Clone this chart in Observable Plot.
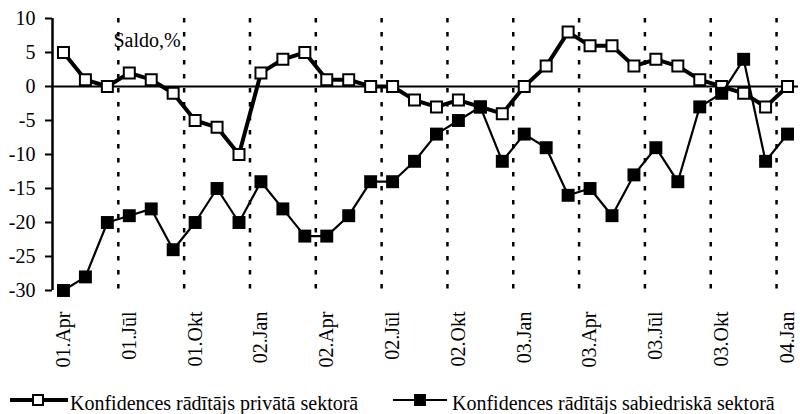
<!DOCTYPE html>
<html><head><meta charset="utf-8">
<script src="https://cdn.jsdelivr.net/npm/d3@7"></script>
<script src="https://cdn.jsdelivr.net/npm/@observablehq/plot@0.6"></script>
</head>
<body style="margin:0;background:#fff">
<div style="font-family:'Liberation Serif';font-size:20px;position:absolute;left:-200px;top:0;width:10px;height:1px;overflow:hidden">&nbsp;</div>
<div id="chart"></div>
<div id="legend"></div>
<script>
const months = ["01.Apr","01.Mai","01.Jūn","01.Jūl","01.Aug","01.Sep","01.Okt","01.Nov","01.Dec",
  "02.Jan","02.Feb","02.Mar","02.Apr","02.Mai","02.Jūn","02.Jūl","02.Aug","02.Sep","02.Okt","02.Nov","02.Dec",
  "03.Jan","03.Feb","03.Mar","03.Apr","03.Mai","03.Jūn","03.Jūl","03.Aug","03.Sep","03.Okt","03.Nov","03.Dec",
  "04.Jan"];
const privateSector = [5,1,0,2,1,-1,-5,-6,-10,2,4,5,1,1,0,0,-2,-3,-2,-3,-4,0,3,8,6,6,3,4,3,1,0,-1,-3,0];
const publicSector = [-30,-28,-20,-19,-18,-24,-20,-15,-20,-14,-18,-22,-22,-19,-14,-14,-11,-7,-5,-3,-11,-7,-9,-16,-15,-19,-13,-9,-14,-3,-1,4,-11,-7];
const yTicks = [10,5,0,-5,-10,-15,-20,-25,-30];
const seriesNames = ["Konfidences rādītājs privātā sektorā","Konfidences rādītājs sabiedriskā sektorā"];
const axisLabel = "Saldo,%";
const FONT = "Liberation Serif";

function draw() {
  const priv = privateSector.map((v,i)=>({i,v}));
  const pub = publicSector.map((v,i)=>({i,v}));
  const labelIdx = d3.range(0, months.length, 3);
  const gridIdx = d3.range(2.5, months.length - 1, 3);

  const chart = Plot.plot({
    width: 800, height: 385,
    marginLeft: 52, marginRight: 2, marginTop: 18, marginBottom: 95,
    style: {fontFamily: FONT, fontSize: "20px", color: "#000", background: "#fff", overflow: "visible"},
    x: {type: "linear", domain: [-0.5, months.length - 0.5]},
    y: {domain: [-30, 10]},
    marks: [
      Plot.ruleX(gridIdx, {x: d => d, y1: 10, y2: -30, stroke: "#000", strokeWidth: 2.5, strokeDasharray: "4.5,9.5"}),
      Plot.ruleY([0], {x1: -0.5, x2: months.length - 0.5, stroke: "#000", strokeWidth: 2}),
      Plot.axisY({ticks: yTicks, tickFormat: d => String(d), tickSize: 7, tickPadding: 10, strokeWidth: 2, label: null, fontSize: 20, fontFamily: FONT}),
      Plot.ruleX([-0.5], {y1: -30, y2: 10, stroke: "#000", strokeWidth: 2.5}),
      Plot.axisX({ticks: labelIdx, tickFormat: i => months[i], tickRotate: -90, tickSize: 0, tickPadding: 21, label: null, fontSize: 20, fontFamily: FONT}),
      Plot.lineY(priv, {x: "i", y: "v", stroke: "#000", strokeWidth: 4}),
      Plot.dot(priv, {x: "i", y: "v", symbol: "square", r: 6.2, fill: "#fff", stroke: "#000", strokeWidth: 2}),
      Plot.lineY(pub, {x: "i", y: "v", stroke: "#000", strokeWidth: 2.2}),
      Plot.dot(pub, {x: "i", y: "v", symbol: "square", r: 7.3, fill: "#000", stroke: "none"}),
      Plot.text([axisLabel], {frameAnchor: "top-left", dx: 61, dy: 22, textAnchor: "start", lineAnchor: "middle", fontSize: 20, fontFamily: FONT, fill: "#000"})
    ]
  });
  chart.style.display = "block";
  document.getElementById("chart").appendChild(chart);

  // legend
  const ns = "http://www.w3.org/2000/svg";
  const lg = document.createElementNS(ns, "svg");
  lg.setAttribute("width", 800); lg.setAttribute("height", 29);
  lg.style.display = "block";
  const items = [
    {x1: 10, x2: 68, cx: 38, w: 4, fill: "#fff", tx: 70, name: seriesNames[0]},
    {x1: 393, x2: 447, cx: 420, w: 2, fill: "#000", tx: 452, name: seriesNames[1]}
  ];
  for (const it of items) {
    const l = document.createElementNS(ns, "line");
    l.setAttribute("x1", it.x1); l.setAttribute("x2", it.x2);
    l.setAttribute("y1", 15); l.setAttribute("y2", 15);
    l.setAttribute("stroke", "#000"); l.setAttribute("stroke-width", it.w);
    lg.appendChild(l);
    const r = document.createElementNS(ns, "rect");
    r.setAttribute("x", it.cx - 5); r.setAttribute("y", 10);
    r.setAttribute("width", 10); r.setAttribute("height", 10);
    r.setAttribute("fill", it.fill); r.setAttribute("stroke", "#000"); r.setAttribute("stroke-width", 2);
    lg.appendChild(r);
    const t = document.createElementNS(ns, "text");
    t.setAttribute("x", it.tx); t.setAttribute("y", 25);
    t.setAttribute("font-size", 20);
    t.setAttribute("font-family", FONT);
    t.textContent = it.name;
    lg.appendChild(t);
  }
  document.getElementById("legend").appendChild(lg);
}

if (document.fonts && document.fonts.load) {
  document.fonts.load("20px 'Liberation Serif'", "Konfidences rādītājs 01.Apr -30").then(draw, draw);
} else {
  draw();
}
</script>
</body></html>
